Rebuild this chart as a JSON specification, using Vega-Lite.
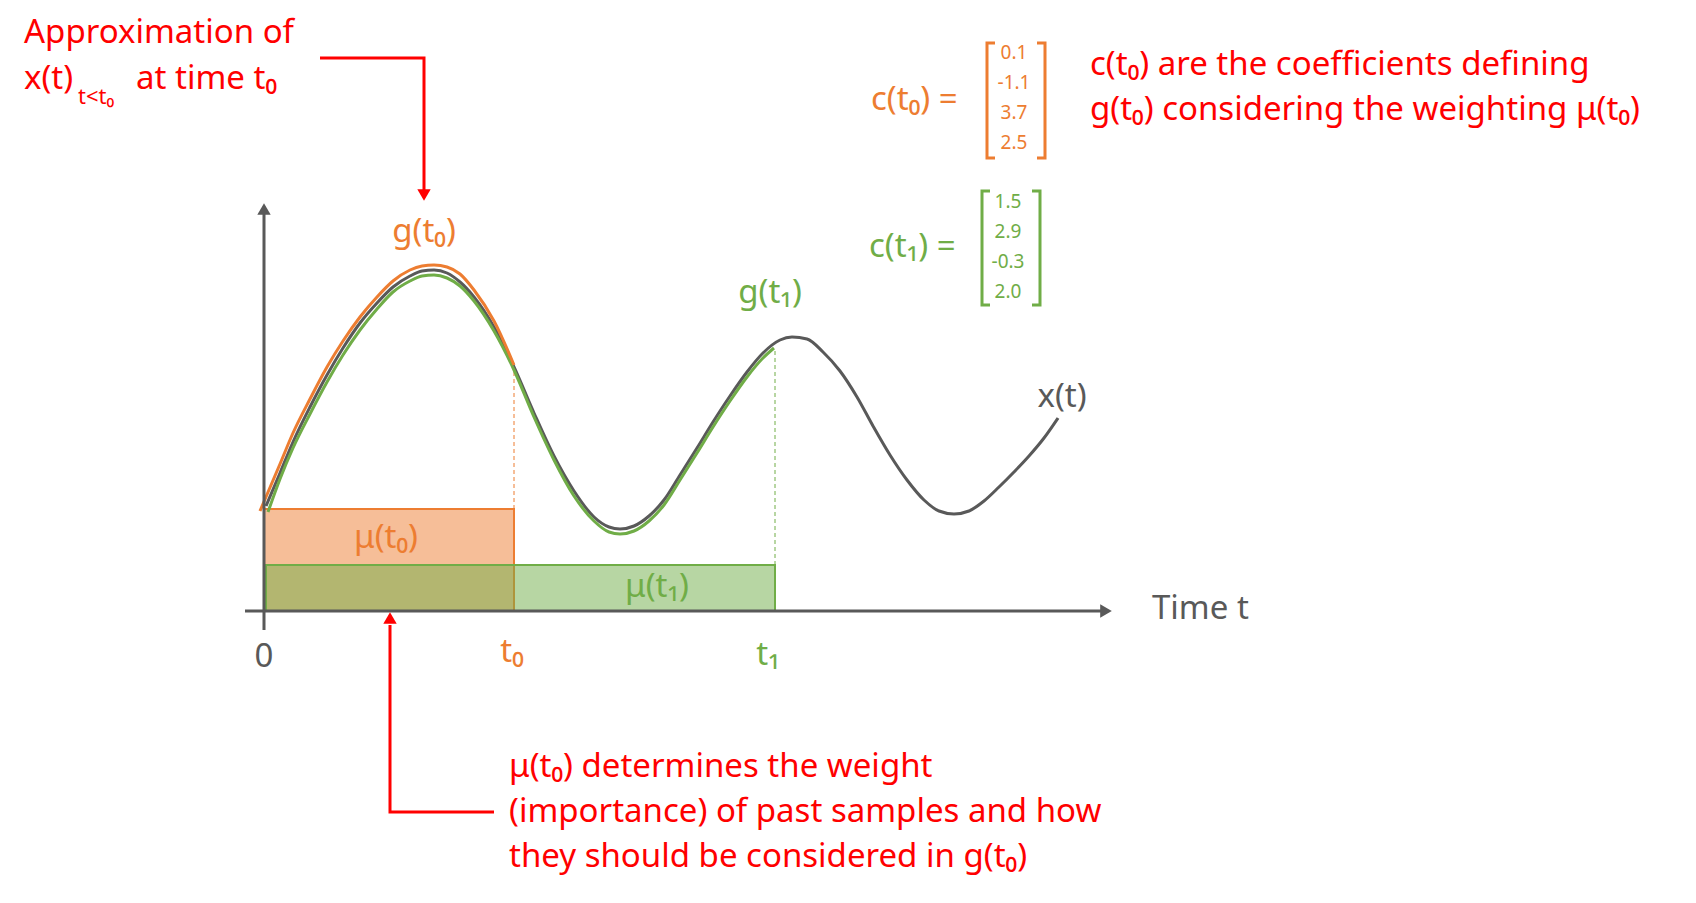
{
  "$schema": "https://vega.github.io/schema/vega-lite/v6.json",
  "width": 1696,
  "height": 903,
  "autosize": {"type": "fit", "contains": "padding"},
  "padding": 0,
  "background": "white",
  "config": {"view": {"stroke": null}, "font": "Noto Sans"},
  "datasets": {
    "rects": [
      {"series": "g0", "t": 0, "t2": 2.5, "v": 0, "v2": 1.02},
      {"series": "g1", "t": 0.02, "t2": 5.11, "v": 0, "v2": 0.46}
    ],
    "guides": [
      {"series": "g0", "t": 2.5, "v": 1.02, "v2": 2.42},
      {"series": "g1", "t": 5.11, "v": 0.46, "v2": 2.63}
    ],
    "curves": [
      {"series": "x", "t": 0.02, "v": 1.05}, {"series": "x", "t": 0.16, "v": 1.38},
      {"series": "x", "t": 0.29, "v": 1.69}, {"series": "x", "t": 0.46, "v": 2.04},
      {"series": "x", "t": 0.63, "v": 2.36}, {"series": "x", "t": 0.79, "v": 2.63},
      {"series": "x", "t": 0.96, "v": 2.88}, {"series": "x", "t": 1.13, "v": 3.08},
      {"series": "x", "t": 1.29, "v": 3.24}, {"series": "x", "t": 1.46, "v": 3.35},
      {"series": "x", "t": 1.58, "v": 3.4}, {"series": "x", "t": 1.7, "v": 3.41},
      {"series": "x", "t": 1.83, "v": 3.38}, {"series": "x", "t": 1.96, "v": 3.29},
      {"series": "x", "t": 2.1, "v": 3.14}, {"series": "x", "t": 2.3, "v": 2.84},
      {"series": "x", "t": 2.5, "v": 2.44}, {"series": "x", "t": 2.7, "v": 1.98},
      {"series": "x", "t": 2.9, "v": 1.55}, {"series": "x", "t": 3.1, "v": 1.2},
      {"series": "x", "t": 3.3, "v": 0.94}, {"series": "x", "t": 3.45, "v": 0.84},
      {"series": "x", "t": 3.56, "v": 0.82}, {"series": "x", "t": 3.7, "v": 0.85},
      {"series": "x", "t": 3.85, "v": 0.95}, {"series": "x", "t": 4.0, "v": 1.11},
      {"series": "x", "t": 4.16, "v": 1.36}, {"series": "x", "t": 4.33, "v": 1.63},
      {"series": "x", "t": 4.49, "v": 1.89}, {"series": "x", "t": 4.66, "v": 2.15},
      {"series": "x", "t": 4.83, "v": 2.39}, {"series": "x", "t": 4.99, "v": 2.58},
      {"series": "x", "t": 5.16, "v": 2.71}, {"series": "x", "t": 5.28, "v": 2.74},
      {"series": "x", "t": 5.43, "v": 2.72}, {"series": "x", "t": 5.59, "v": 2.59},
      {"series": "x", "t": 5.76, "v": 2.4}, {"series": "x", "t": 5.93, "v": 2.14},
      {"series": "x", "t": 6.09, "v": 1.85}, {"series": "x", "t": 6.26, "v": 1.56},
      {"series": "x", "t": 6.43, "v": 1.31}, {"series": "x", "t": 6.6, "v": 1.11},
      {"series": "x", "t": 6.75, "v": 1.0}, {"series": "x", "t": 6.9, "v": 0.97},
      {"series": "x", "t": 7.05, "v": 1.0}, {"series": "x", "t": 7.2, "v": 1.1},
      {"series": "x", "t": 7.35, "v": 1.24}, {"series": "x", "t": 7.5, "v": 1.39},
      {"series": "x", "t": 7.65, "v": 1.55}, {"series": "x", "t": 7.8, "v": 1.73},
      {"series": "x", "t": 7.94, "v": 1.93},
      {"series": "g1", "t": 0.04, "v": 0.99}, {"series": "g1", "t": 0.16, "v": 1.32},
      {"series": "g1", "t": 0.29, "v": 1.63}, {"series": "g1", "t": 0.46, "v": 1.97},
      {"series": "g1", "t": 0.63, "v": 2.29}, {"series": "g1", "t": 0.79, "v": 2.56},
      {"series": "g1", "t": 0.96, "v": 2.81}, {"series": "g1", "t": 1.13, "v": 3.02},
      {"series": "g1", "t": 1.29, "v": 3.19}, {"series": "g1", "t": 1.46, "v": 3.3},
      {"series": "g1", "t": 1.58, "v": 3.35}, {"series": "g1", "t": 1.7, "v": 3.36},
      {"series": "g1", "t": 1.83, "v": 3.33}, {"series": "g1", "t": 1.96, "v": 3.25},
      {"series": "g1", "t": 2.1, "v": 3.1}, {"series": "g1", "t": 2.3, "v": 2.8},
      {"series": "g1", "t": 2.5, "v": 2.41}, {"series": "g1", "t": 2.7, "v": 1.94},
      {"series": "g1", "t": 2.9, "v": 1.51}, {"series": "g1", "t": 3.1, "v": 1.15},
      {"series": "g1", "t": 3.3, "v": 0.9}, {"series": "g1", "t": 3.45, "v": 0.79},
      {"series": "g1", "t": 3.56, "v": 0.77}, {"series": "g1", "t": 3.7, "v": 0.8},
      {"series": "g1", "t": 3.85, "v": 0.9}, {"series": "g1", "t": 4.0, "v": 1.06},
      {"series": "g1", "t": 4.16, "v": 1.31}, {"series": "g1", "t": 4.33, "v": 1.58},
      {"series": "g1", "t": 4.49, "v": 1.84}, {"series": "g1", "t": 4.66, "v": 2.1},
      {"series": "g1", "t": 4.83, "v": 2.34}, {"series": "g1", "t": 4.99, "v": 2.53},
      {"series": "g1", "t": 5.1, "v": 2.63},
      {"series": "g0", "t": -0.04, "v": 1.0}, {"series": "g0", "t": 0.16, "v": 1.47},
      {"series": "g0", "t": 0.29, "v": 1.78}, {"series": "g0", "t": 0.46, "v": 2.12},
      {"series": "g0", "t": 0.63, "v": 2.44}, {"series": "g0", "t": 0.79, "v": 2.7},
      {"series": "g0", "t": 0.96, "v": 2.94}, {"series": "g0", "t": 1.13, "v": 3.14},
      {"series": "g0", "t": 1.29, "v": 3.3}, {"series": "g0", "t": 1.46, "v": 3.41},
      {"series": "g0", "t": 1.58, "v": 3.45}, {"series": "g0", "t": 1.7, "v": 3.46},
      {"series": "g0", "t": 1.83, "v": 3.44}, {"series": "g0", "t": 1.96, "v": 3.37},
      {"series": "g0", "t": 2.1, "v": 3.21}, {"series": "g0", "t": 2.3, "v": 2.9},
      {"series": "g0", "t": 2.5, "v": 2.46}
    ],
    "paths": [
      {"series": "axis", "path": "ax", "ord": 1, "t": -0.19, "v": 0},
      {"series": "axis", "path": "ax", "ord": 2, "t": 8.4, "v": 0},
      {"series": "axis", "path": "ay", "ord": 1, "t": 0, "v": -0.19},
      {"series": "axis", "path": "ay", "ord": 2, "t": 0, "v": 4.0},
      {"series": "note", "path": "n1", "ord": 1, "t": 0.56, "v": 5.53},
      {"series": "note", "path": "n1", "ord": 2, "t": 1.6, "v": 5.53},
      {"series": "note", "path": "n1", "ord": 3, "t": 1.6, "v": 4.2},
      {"series": "note", "path": "n2", "ord": 1, "t": 2.3, "v": -2.01},
      {"series": "note", "path": "n2", "ord": 2, "t": 1.26, "v": -2.01},
      {"series": "note", "path": "n2", "ord": 3, "t": 1.26, "v": -0.14},
      {"series": "g0", "path": "b0l", "ord": 1, "t": 7.31, "v": 5.68},
      {"series": "g0", "path": "b0l", "ord": 2, "t": 7.23, "v": 5.68},
      {"series": "g0", "path": "b0l", "ord": 3, "t": 7.23, "v": 4.53},
      {"series": "g0", "path": "b0l", "ord": 4, "t": 7.31, "v": 4.53},
      {"series": "g0", "path": "b0r", "ord": 1, "t": 7.73, "v": 5.68},
      {"series": "g0", "path": "b0r", "ord": 2, "t": 7.81, "v": 5.68},
      {"series": "g0", "path": "b0r", "ord": 3, "t": 7.81, "v": 4.53},
      {"series": "g0", "path": "b0r", "ord": 4, "t": 7.73, "v": 4.53},
      {"series": "g1", "path": "b1l", "ord": 1, "t": 7.26, "v": 4.2},
      {"series": "g1", "path": "b1l", "ord": 2, "t": 7.18, "v": 4.2},
      {"series": "g1", "path": "b1l", "ord": 3, "t": 7.18, "v": 3.06},
      {"series": "g1", "path": "b1l", "ord": 4, "t": 7.26, "v": 3.06},
      {"series": "g1", "path": "b1r", "ord": 1, "t": 7.68, "v": 4.2},
      {"series": "g1", "path": "b1r", "ord": 2, "t": 7.76, "v": 4.2},
      {"series": "g1", "path": "b1r", "ord": 3, "t": 7.76, "v": 3.06},
      {"series": "g1", "path": "b1r", "ord": 4, "t": 7.68, "v": 3.06}
    ],
    "heads": [
      {"series": "axis", "dir": "right", "t": 8.42, "v": 0},
      {"series": "axis", "dir": "up", "t": 0, "v": 4.02},
      {"series": "note", "dir": "down", "t": 1.6, "v": 4.16},
      {"series": "note", "dir": "up", "t": 1.26, "v": -0.07}
    ],
    "labels": [
      {"kind": "note", "series": "note", "text": "Approximation of", "t": -2.4, "v": 5.78},
      {"kind": "note", "series": "note", "text": "x(t)", "t": -2.4, "v": 5.32},
      {"kind": "note", "series": "note", "text": "at time t₀", "t": -1.28, "v": 5.32},
      {"kind": "sub", "series": "note", "text": "t<t₀", "t": -1.86, "v": 5.14},
      {"kind": "note", "series": "note", "text": "c(t₀) are the coefficients defining", "t": 8.26, "v": 5.46},
      {"kind": "note", "series": "note", "text": "g(t₀) considering the weighting μ(t₀)", "t": 8.26, "v": 5.01},
      {"kind": "note", "series": "note", "text": "μ(t₀) determines the weight", "t": 2.45, "v": -1.56},
      {"kind": "note", "series": "note", "text": "(importance) of past samples and how", "t": 2.45, "v": -2.01},
      {"kind": "note", "series": "note", "text": "they should be considered in g(t₀)", "t": 2.45, "v": -2.46},
      {"kind": "note", "series": "g0", "text": "c(t₀) =", "t": 6.07, "v": 5.11},
      {"kind": "note", "series": "g1", "text": "c(t₁) =", "t": 6.05, "v": 3.64},
      {"kind": "note", "series": "axis", "text": "Time t", "t": 8.88, "v": 0.02},
      {"kind": "label", "series": "g0", "text": "g(t₀)", "t": 1.6, "v": 3.79},
      {"kind": "label", "series": "g1", "text": "g(t₁)", "t": 5.06, "v": 3.18},
      {"kind": "label", "series": "x", "text": "x(t)", "t": 7.98, "v": 2.14},
      {"kind": "label", "series": "g0", "text": "μ(t₀)", "t": 1.22, "v": 0.73},
      {"kind": "label", "series": "g1", "text": "μ(t₁)", "t": 3.93, "v": 0.24},
      {"kind": "label", "series": "g0", "text": "t₀", "t": 2.48, "v": -0.41},
      {"kind": "label", "series": "g1", "text": "t₁", "t": 5.04, "v": -0.44},
      {"kind": "label", "series": "axis", "text": "0", "t": 0, "v": -0.46},
      {"kind": "entry", "series": "g0", "text": "0.1", "t": 7.5, "v": 5.58},
      {"kind": "entry", "series": "g0", "text": "-1.1", "t": 7.5, "v": 5.28},
      {"kind": "entry", "series": "g0", "text": "3.7", "t": 7.5, "v": 4.98},
      {"kind": "entry", "series": "g0", "text": "2.5", "t": 7.5, "v": 4.68},
      {"kind": "entry", "series": "g1", "text": "1.5", "t": 7.44, "v": 4.09},
      {"kind": "entry", "series": "g1", "text": "2.9", "t": 7.44, "v": 3.79},
      {"kind": "entry", "series": "g1", "text": "-0.3", "t": 7.44, "v": 3.49},
      {"kind": "entry", "series": "g1", "text": "2.0", "t": 7.44, "v": 3.19}
    ]
  },
  "encoding": {
    "x": {"field": "t", "type": "quantitative", "scale": {"domain": [-2.64, 14.32], "nice": false, "zero": false}, "axis": null},
    "y": {"field": "v", "type": "quantitative", "scale": {"domain": [-2.92, 6.11], "nice": false, "zero": false}, "axis": null},
    "color": {
      "field": "series",
      "type": "nominal",
      "scale": {"domain": ["x", "g0", "g1", "axis", "note"], "range": ["#595959", "#ED7D31", "#70AD47", "#595959", "#FF0000"]},
      "legend": null
    }
  },
  "layer": [
    {
      "data": {"name": "rects"},
      "mark": {"type": "rect", "fillOpacity": 0.5, "strokeWidth": 2},
      "encoding": {
        "x2": {"field": "t2"},
        "y2": {"field": "v2"},
        "stroke": {
          "field": "series",
          "type": "nominal",
          "scale": {"domain": ["x", "g0", "g1", "axis", "note"], "range": ["#595959", "#ED7D31", "#70AD47", "#595959", "#FF0000"]},
          "legend": null
        }
      }
    },
    {
      "data": {"name": "guides"},
      "mark": {"type": "rule", "strokeWidth": 1, "strokeDash": [4, 3]},
      "encoding": {"y2": {"field": "v2"}}
    },
    {
      "data": {"name": "curves"},
      "transform": [{"filter": "datum.series == 'x'"}],
      "mark": {"type": "line", "interpolate": "monotone", "strokeWidth": 3}
    },
    {
      "data": {"name": "curves"},
      "transform": [{"filter": "datum.series == 'g1'"}],
      "mark": {"type": "line", "interpolate": "monotone", "strokeWidth": 3}
    },
    {
      "data": {"name": "curves"},
      "transform": [{"filter": "datum.series == 'g0'"}],
      "mark": {"type": "line", "interpolate": "monotone", "strokeWidth": 3}
    },
    {
      "data": {"name": "paths"},
      "mark": {"type": "line", "strokeWidth": 3},
      "encoding": {
        "detail": {"field": "path"},
        "order": {"field": "ord", "type": "quantitative"}
      }
    },
    {
      "data": {"name": "heads"},
      "mark": {"type": "point", "filled": true, "opacity": 1, "size": 180},
      "encoding": {
        "shape": {
          "field": "dir",
          "type": "nominal",
          "scale": {"domain": ["up", "down", "right"], "range": ["triangle-up", "triangle-down", "triangle-right"]},
          "legend": null
        }
      }
    },
    {
      "data": {"name": "labels"},
      "transform": [{"filter": "datum.kind == 'note'"}],
      "mark": {"type": "text", "align": "left", "baseline": "middle", "fontSize": 33},
      "encoding": {"text": {"field": "text"}}
    },
    {
      "data": {"name": "labels"},
      "transform": [{"filter": "datum.kind == 'label'"}],
      "mark": {"type": "text", "align": "center", "baseline": "middle", "fontSize": 33},
      "encoding": {"text": {"field": "text"}}
    },
    {
      "data": {"name": "labels"},
      "transform": [{"filter": "datum.kind == 'sub'"}],
      "mark": {"type": "text", "align": "left", "baseline": "middle", "fontSize": 22},
      "encoding": {"text": {"field": "text"}}
    },
    {
      "data": {"name": "labels"},
      "transform": [{"filter": "datum.kind == 'entry'"}],
      "mark": {"type": "text", "align": "center", "baseline": "middle", "fontSize": 19},
      "encoding": {"text": {"field": "text"}}
    }
  ]
}
